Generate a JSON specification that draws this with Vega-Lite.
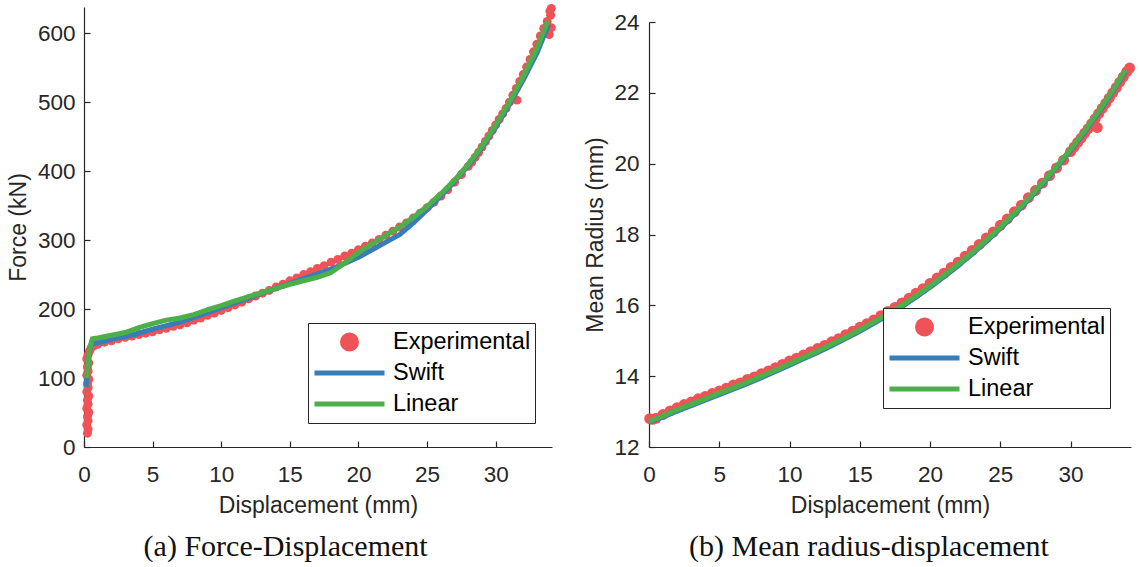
{
  "$schema": "https://vega.github.io/schema/vega-lite/v6.json",
  "background": "white",
  "padding": {"left": 7, "top": 3, "right": 5, "bottom": 0},
  "config": {
    "view": {"stroke": null},
    "font": "Liberation Sans",
    "axis": {
      "grid": false,
      "labelFlush": false,
      "domainColor": "#262626",
      "domainWidth": 1.2,
      "tickColor": "#262626",
      "tickWidth": 1.2,
      "tickSize": -6,
      "labelFont": "Liberation Sans",
      "labelFontSize": 22.5,
      "labelColor": "#262626",
      "titleFont": "Liberation Sans",
      "titleFontSize": 23,
      "titleFontWeight": "normal",
      "titleColor": "#262626"
    },
    "legend": {
      "title": null,
      "orient": "none",
      "symbolType": "stroke",
      "symbolSize": 4900,
      "symbolStrokeWidth": 5,
      "symbolFillColor": "#e41a1c",
      "clipHeight": 30,
      "rowPadding": 1,
      "padding": 4,
      "labelFont": "Liberation Sans",
      "labelFontSize": 23.5,
      "labelColor": "#000000",
      "labelOffset": 6,
      "strokeColor": "#262626",
      "fillColor": "white"
    }
  },
  "datasets": {
    "forceExp": [
      {"series": "Experimental", "d": 0.25, "f": 20}, {"series": "Experimental", "d": 0.3, "f": 26}, {"series": "Experimental", "d": 0.2, "f": 32},
      {"series": "Experimental", "d": 0.3, "f": 38}, {"series": "Experimental", "d": 0.25, "f": 44}, {"series": "Experimental", "d": 0.35, "f": 50},
      {"series": "Experimental", "d": 0.2, "f": 56}, {"series": "Experimental", "d": 0.3, "f": 62}, {"series": "Experimental", "d": 0.25, "f": 68},
      {"series": "Experimental", "d": 0.35, "f": 74}, {"series": "Experimental", "d": 0.2, "f": 80}, {"series": "Experimental", "d": 0.3, "f": 86},
      {"series": "Experimental", "d": 0.25, "f": 92}, {"series": "Experimental", "d": 0.35, "f": 98}, {"series": "Experimental", "d": 0.2, "f": 104},
      {"series": "Experimental", "d": 0.3, "f": 110}, {"series": "Experimental", "d": 0.25, "f": 116}, {"series": "Experimental", "d": 0.35, "f": 122},
      {"series": "Experimental", "d": 0.2, "f": 128}, {"series": "Experimental", "d": 0.3, "f": 134}, {"series": "Experimental", "d": 0.4, "f": 139},
      {"series": "Experimental", "d": 0.5, "f": 143}, {"series": "Experimental", "d": 0.75, "f": 147}, {"series": "Experimental", "d": 1, "f": 149},
      {"series": "Experimental", "d": 1.5, "f": 152}, {"series": "Experimental", "d": 2, "f": 154}, {"series": "Experimental", "d": 2.5, "f": 157},
      {"series": "Experimental", "d": 3, "f": 159}, {"series": "Experimental", "d": 3.5, "f": 161}, {"series": "Experimental", "d": 4, "f": 163},
      {"series": "Experimental", "d": 4.5, "f": 165}, {"series": "Experimental", "d": 5, "f": 167}, {"series": "Experimental", "d": 5.5, "f": 170},
      {"series": "Experimental", "d": 6, "f": 172}, {"series": "Experimental", "d": 6.5, "f": 175}, {"series": "Experimental", "d": 7, "f": 177},
      {"series": "Experimental", "d": 7.5, "f": 180}, {"series": "Experimental", "d": 8, "f": 184}, {"series": "Experimental", "d": 8.5, "f": 187},
      {"series": "Experimental", "d": 9, "f": 191}, {"series": "Experimental", "d": 9.5, "f": 194}, {"series": "Experimental", "d": 10, "f": 198},
      {"series": "Experimental", "d": 10.5, "f": 202}, {"series": "Experimental", "d": 11, "f": 206}, {"series": "Experimental", "d": 11.5, "f": 210},
      {"series": "Experimental", "d": 12, "f": 215}, {"series": "Experimental", "d": 12.5, "f": 219}, {"series": "Experimental", "d": 13, "f": 223},
      {"series": "Experimental", "d": 13.5, "f": 227}, {"series": "Experimental", "d": 14, "f": 232}, {"series": "Experimental", "d": 14.5, "f": 236},
      {"series": "Experimental", "d": 15, "f": 241}, {"series": "Experimental", "d": 15.5, "f": 245}, {"series": "Experimental", "d": 16, "f": 250},
      {"series": "Experimental", "d": 16.5, "f": 254}, {"series": "Experimental", "d": 17, "f": 259}, {"series": "Experimental", "d": 17.5, "f": 263},
      {"series": "Experimental", "d": 18, "f": 268}, {"series": "Experimental", "d": 18.5, "f": 272}, {"series": "Experimental", "d": 19, "f": 277},
      {"series": "Experimental", "d": 19.5, "f": 281}, {"series": "Experimental", "d": 20, "f": 286}, {"series": "Experimental", "d": 20.5, "f": 291},
      {"series": "Experimental", "d": 21, "f": 296}, {"series": "Experimental", "d": 21.5, "f": 301}, {"series": "Experimental", "d": 22, "f": 307},
      {"series": "Experimental", "d": 22.5, "f": 313}, {"series": "Experimental", "d": 23, "f": 319}, {"series": "Experimental", "d": 23.5, "f": 325},
      {"series": "Experimental", "d": 24, "f": 332}, {"series": "Experimental", "d": 24.5, "f": 339}, {"series": "Experimental", "d": 25, "f": 347},
      {"series": "Experimental", "d": 25.5, "f": 355}, {"series": "Experimental", "d": 26, "f": 364}, {"series": "Experimental", "d": 26.5, "f": 373},
      {"series": "Experimental", "d": 27, "f": 384}, {"series": "Experimental", "d": 27.5, "f": 395}, {"series": "Experimental", "d": 28, "f": 407},
      {"series": "Experimental", "d": 28.25, "f": 413}, {"series": "Experimental", "d": 28.5, "f": 420}, {"series": "Experimental", "d": 28.75, "f": 427},
      {"series": "Experimental", "d": 29, "f": 435}, {"series": "Experimental", "d": 29.25, "f": 443}, {"series": "Experimental", "d": 29.5, "f": 451},
      {"series": "Experimental", "d": 29.75, "f": 459}, {"series": "Experimental", "d": 30, "f": 467}, {"series": "Experimental", "d": 30.25, "f": 475},
      {"series": "Experimental", "d": 30.5, "f": 483}, {"series": "Experimental", "d": 30.75, "f": 491}, {"series": "Experimental", "d": 31, "f": 500},
      {"series": "Experimental", "d": 31.55, "f": 503}, {"series": "Experimental", "d": 31.25, "f": 510}, {"series": "Experimental", "d": 31.5, "f": 520},
      {"series": "Experimental", "d": 31.75, "f": 530}, {"series": "Experimental", "d": 32, "f": 540}, {"series": "Experimental", "d": 32.25, "f": 551},
      {"series": "Experimental", "d": 32.5, "f": 562}, {"series": "Experimental", "d": 32.75, "f": 573}, {"series": "Experimental", "d": 33, "f": 584},
      {"series": "Experimental", "d": 33.25, "f": 596}, {"series": "Experimental", "d": 33.5, "f": 607}, {"series": "Experimental", "d": 33.75, "f": 617},
      {"series": "Experimental", "d": 34, "f": 626}, {"series": "Experimental", "d": 33.9, "f": 598}, {"series": "Experimental", "d": 34.05, "f": 608},
      {"series": "Experimental", "d": 33.95, "f": 632}, {"series": "Experimental", "d": 34.05, "f": 636}
    ],
    "forceSwift": [
      {"series": "Swift", "d": 0.15, "f": 87}, {"series": "Swift", "d": 0.35, "f": 130}, {"series": "Swift", "d": 0.5, "f": 149},
      {"series": "Swift", "d": 1, "f": 151}, {"series": "Swift", "d": 2, "f": 156}, {"series": "Swift", "d": 3, "f": 160},
      {"series": "Swift", "d": 4, "f": 165}, {"series": "Swift", "d": 5, "f": 171}, {"series": "Swift", "d": 6, "f": 176},
      {"series": "Swift", "d": 7, "f": 181}, {"series": "Swift", "d": 8, "f": 188}, {"series": "Swift", "d": 9, "f": 195},
      {"series": "Swift", "d": 10, "f": 202}, {"series": "Swift", "d": 11, "f": 209}, {"series": "Swift", "d": 12, "f": 216},
      {"series": "Swift", "d": 13, "f": 223}, {"series": "Swift", "d": 14, "f": 230}, {"series": "Swift", "d": 15, "f": 237},
      {"series": "Swift", "d": 16, "f": 244}, {"series": "Swift", "d": 17, "f": 251}, {"series": "Swift", "d": 18, "f": 258},
      {"series": "Swift", "d": 19, "f": 266}, {"series": "Swift", "d": 20, "f": 275}, {"series": "Swift", "d": 21, "f": 286},
      {"series": "Swift", "d": 22, "f": 297}, {"series": "Swift", "d": 23, "f": 308}, {"series": "Swift", "d": 24, "f": 325},
      {"series": "Swift", "d": 25, "f": 344}, {"series": "Swift", "d": 26, "f": 364}, {"series": "Swift", "d": 27, "f": 385},
      {"series": "Swift", "d": 28, "f": 408}, {"series": "Swift", "d": 29, "f": 434}, {"series": "Swift", "d": 30, "f": 464},
      {"series": "Swift", "d": 31, "f": 497}, {"series": "Swift", "d": 32, "f": 532}, {"series": "Swift", "d": 33, "f": 571},
      {"series": "Swift", "d": 33.85, "f": 613}
    ],
    "forceLinear": [
      {"series": "Linear", "d": 0.2, "f": 100}, {"series": "Linear", "d": 0.4, "f": 140}, {"series": "Linear", "d": 0.6, "f": 157},
      {"series": "Linear", "d": 1, "f": 158}, {"series": "Linear", "d": 2, "f": 162}, {"series": "Linear", "d": 3, "f": 166},
      {"series": "Linear", "d": 4, "f": 173}, {"series": "Linear", "d": 5, "f": 179}, {"series": "Linear", "d": 6, "f": 184},
      {"series": "Linear", "d": 7, "f": 187}, {"series": "Linear", "d": 8, "f": 192}, {"series": "Linear", "d": 9, "f": 199},
      {"series": "Linear", "d": 10, "f": 205}, {"series": "Linear", "d": 11, "f": 212}, {"series": "Linear", "d": 12, "f": 218},
      {"series": "Linear", "d": 13, "f": 224}, {"series": "Linear", "d": 14, "f": 230}, {"series": "Linear", "d": 15, "f": 236},
      {"series": "Linear", "d": 16, "f": 241}, {"series": "Linear", "d": 17, "f": 246}, {"series": "Linear", "d": 18, "f": 253},
      {"series": "Linear", "d": 19, "f": 267}, {"series": "Linear", "d": 20, "f": 282}, {"series": "Linear", "d": 21, "f": 295},
      {"series": "Linear", "d": 22, "f": 307}, {"series": "Linear", "d": 23, "f": 319}, {"series": "Linear", "d": 24, "f": 333},
      {"series": "Linear", "d": 25, "f": 349}, {"series": "Linear", "d": 26, "f": 367}, {"series": "Linear", "d": 27, "f": 387},
      {"series": "Linear", "d": 28, "f": 410}, {"series": "Linear", "d": 29, "f": 436}, {"series": "Linear", "d": 30, "f": 467},
      {"series": "Linear", "d": 31, "f": 500}, {"series": "Linear", "d": 32, "f": 537}, {"series": "Linear", "d": 33, "f": 578},
      {"series": "Linear", "d": 33.8, "f": 618}
    ],
    "radiusExp": [
      {"series": "Experimental", "d": 0.05, "r": 12.8}, {"series": "Experimental", "d": 0.25, "r": 12.78}, {"series": "Experimental", "d": 0.5, "r": 12.81},
      {"series": "Experimental", "d": 1, "r": 12.92}, {"series": "Experimental", "d": 1.5, "r": 13.02}, {"series": "Experimental", "d": 2, "r": 13.11},
      {"series": "Experimental", "d": 2.5, "r": 13.2}, {"series": "Experimental", "d": 3, "r": 13.27}, {"series": "Experimental", "d": 3.5, "r": 13.36},
      {"series": "Experimental", "d": 4, "r": 13.43}, {"series": "Experimental", "d": 4.5, "r": 13.51}, {"series": "Experimental", "d": 5, "r": 13.58},
      {"series": "Experimental", "d": 5.5, "r": 13.66}, {"series": "Experimental", "d": 6, "r": 13.75}, {"series": "Experimental", "d": 6.5, "r": 13.81},
      {"series": "Experimental", "d": 7, "r": 13.91}, {"series": "Experimental", "d": 7.5, "r": 13.98}, {"series": "Experimental", "d": 8, "r": 14.07},
      {"series": "Experimental", "d": 8.5, "r": 14.15}, {"series": "Experimental", "d": 9, "r": 14.24}, {"series": "Experimental", "d": 9.5, "r": 14.33},
      {"series": "Experimental", "d": 10, "r": 14.43}, {"series": "Experimental", "d": 10.5, "r": 14.51}, {"series": "Experimental", "d": 11, "r": 14.6},
      {"series": "Experimental", "d": 11.5, "r": 14.69}, {"series": "Experimental", "d": 12, "r": 14.78}, {"series": "Experimental", "d": 12.5, "r": 14.87},
      {"series": "Experimental", "d": 13, "r": 14.97}, {"series": "Experimental", "d": 13.5, "r": 15.06}, {"series": "Experimental", "d": 14, "r": 15.17},
      {"series": "Experimental", "d": 14.5, "r": 15.27}, {"series": "Experimental", "d": 15, "r": 15.38}, {"series": "Experimental", "d": 15.5, "r": 15.48},
      {"series": "Experimental", "d": 16, "r": 15.59}, {"series": "Experimental", "d": 16.5, "r": 15.71}, {"series": "Experimental", "d": 17, "r": 15.83},
      {"series": "Experimental", "d": 17.5, "r": 15.94}, {"series": "Experimental", "d": 18, "r": 16.07}, {"series": "Experimental", "d": 18.5, "r": 16.2},
      {"series": "Experimental", "d": 19, "r": 16.34}, {"series": "Experimental", "d": 19.5, "r": 16.47}, {"series": "Experimental", "d": 20, "r": 16.62},
      {"series": "Experimental", "d": 20.5, "r": 16.77}, {"series": "Experimental", "d": 21, "r": 16.91}, {"series": "Experimental", "d": 21.5, "r": 17.07},
      {"series": "Experimental", "d": 22, "r": 17.22}, {"series": "Experimental", "d": 22.5, "r": 17.39}, {"series": "Experimental", "d": 23, "r": 17.55},
      {"series": "Experimental", "d": 23.5, "r": 17.72}, {"series": "Experimental", "d": 24, "r": 17.9}, {"series": "Experimental", "d": 24.5, "r": 18.07},
      {"series": "Experimental", "d": 25, "r": 18.26}, {"series": "Experimental", "d": 25.5, "r": 18.44}, {"series": "Experimental", "d": 26, "r": 18.64},
      {"series": "Experimental", "d": 26.5, "r": 18.83}, {"series": "Experimental", "d": 27, "r": 19.04}, {"series": "Experimental", "d": 27.5, "r": 19.24},
      {"series": "Experimental", "d": 28, "r": 19.45}, {"series": "Experimental", "d": 28.5, "r": 19.66}, {"series": "Experimental", "d": 29, "r": 19.88},
      {"series": "Experimental", "d": 29.5, "r": 20.1}, {"series": "Experimental", "d": 30, "r": 20.34}, {"series": "Experimental", "d": 30.25, "r": 20.47},
      {"series": "Experimental", "d": 30.5, "r": 20.6}, {"series": "Experimental", "d": 30.75, "r": 20.72}, {"series": "Experimental", "d": 31, "r": 20.86},
      {"series": "Experimental", "d": 31.25, "r": 20.99}, {"series": "Experimental", "d": 31.5, "r": 21.13}, {"series": "Experimental", "d": 31.9, "r": 21.02},
      {"series": "Experimental", "d": 31.75, "r": 21.27}, {"series": "Experimental", "d": 32, "r": 21.41}, {"series": "Experimental", "d": 32.25, "r": 21.56},
      {"series": "Experimental", "d": 32.5, "r": 21.7}, {"series": "Experimental", "d": 32.75, "r": 21.85}, {"series": "Experimental", "d": 33, "r": 22.0},
      {"series": "Experimental", "d": 33.25, "r": 22.15}, {"series": "Experimental", "d": 33.5, "r": 22.3}, {"series": "Experimental", "d": 33.75, "r": 22.45},
      {"series": "Experimental", "d": 34, "r": 22.6}, {"series": "Experimental", "d": 34.2, "r": 22.7}
    ],
    "radiusSwift": [
      {"series": "Swift", "d": 0, "r": 12.7}, {"series": "Swift", "d": 1, "r": 12.85}, {"series": "Swift", "d": 2, "r": 13.01},
      {"series": "Swift", "d": 3, "r": 13.17}, {"series": "Swift", "d": 4, "r": 13.32}, {"series": "Swift", "d": 5, "r": 13.48},
      {"series": "Swift", "d": 6, "r": 13.63}, {"series": "Swift", "d": 7, "r": 13.79}, {"series": "Swift", "d": 8, "r": 13.96},
      {"series": "Swift", "d": 9, "r": 14.13}, {"series": "Swift", "d": 10, "r": 14.31}, {"series": "Swift", "d": 11, "r": 14.49},
      {"series": "Swift", "d": 12, "r": 14.67}, {"series": "Swift", "d": 13, "r": 14.86}, {"series": "Swift", "d": 14, "r": 15.06},
      {"series": "Swift", "d": 15, "r": 15.27}, {"series": "Swift", "d": 16, "r": 15.49}, {"series": "Swift", "d": 17, "r": 15.72},
      {"series": "Swift", "d": 18, "r": 15.96}, {"series": "Swift", "d": 19, "r": 16.23}, {"series": "Swift", "d": 20, "r": 16.51},
      {"series": "Swift", "d": 21, "r": 16.81}, {"series": "Swift", "d": 22, "r": 17.12}, {"series": "Swift", "d": 23, "r": 17.45},
      {"series": "Swift", "d": 24, "r": 17.8}, {"series": "Swift", "d": 25, "r": 18.17}, {"series": "Swift", "d": 26, "r": 18.56},
      {"series": "Swift", "d": 27, "r": 18.98}, {"series": "Swift", "d": 28, "r": 19.42}, {"series": "Swift", "d": 29, "r": 19.88},
      {"series": "Swift", "d": 30, "r": 20.37}, {"series": "Swift", "d": 31, "r": 20.89}, {"series": "Swift", "d": 32, "r": 21.44},
      {"series": "Swift", "d": 33, "r": 22.02}, {"series": "Swift", "d": 33.9, "r": 22.6}
    ],
    "radiusLinear": [
      {"series": "Linear", "d": 0, "r": 12.72}, {"series": "Linear", "d": 1, "r": 12.88}, {"series": "Linear", "d": 2, "r": 13.05},
      {"series": "Linear", "d": 3, "r": 13.21}, {"series": "Linear", "d": 4, "r": 13.36}, {"series": "Linear", "d": 5, "r": 13.52},
      {"series": "Linear", "d": 6, "r": 13.67}, {"series": "Linear", "d": 7, "r": 13.83}, {"series": "Linear", "d": 8, "r": 14.0},
      {"series": "Linear", "d": 9, "r": 14.17}, {"series": "Linear", "d": 10, "r": 14.35}, {"series": "Linear", "d": 11, "r": 14.53},
      {"series": "Linear", "d": 12, "r": 14.71}, {"series": "Linear", "d": 13, "r": 14.9}, {"series": "Linear", "d": 14, "r": 15.1},
      {"series": "Linear", "d": 15, "r": 15.31}, {"series": "Linear", "d": 16, "r": 15.53}, {"series": "Linear", "d": 17, "r": 15.76},
      {"series": "Linear", "d": 18, "r": 16.0}, {"series": "Linear", "d": 19, "r": 16.27}, {"series": "Linear", "d": 20, "r": 16.55},
      {"series": "Linear", "d": 21, "r": 16.85}, {"series": "Linear", "d": 22, "r": 17.16}, {"series": "Linear", "d": 23, "r": 17.49},
      {"series": "Linear", "d": 24, "r": 17.84}, {"series": "Linear", "d": 25, "r": 18.21}, {"series": "Linear", "d": 26, "r": 18.6},
      {"series": "Linear", "d": 27, "r": 19.02}, {"series": "Linear", "d": 28, "r": 19.46}, {"series": "Linear", "d": 29, "r": 19.92},
      {"series": "Linear", "d": 30, "r": 20.41}, {"series": "Linear", "d": 31, "r": 20.93}, {"series": "Linear", "d": 32, "r": 21.48},
      {"series": "Linear", "d": 33, "r": 22.06}, {"series": "Linear", "d": 33.9, "r": 22.64}
    ]
  },
  "resolve": {"scale": {"color": "independent"}, "legend": {"color": "independent"}},
  "spacing": 28,
  "hconcat": [
    {
      "width": 468,
      "height": 440,
      "title": {
        "text": "(a) Force-Displacement",
        "orient": "bottom",
        "anchor": "middle",
        "frame": "bounds",
        "font": "Liberation Serif",
        "fontSize": 30,
        "fontWeight": "normal",
        "color": "#111111",
        "offset": 14,
        "dx": 4
      },
      "encoding": {
        "x": {
          "field": "d",
          "type": "quantitative",
          "scale": {"domain": [0, 34.1], "nice": false, "zero": false},
          "axis": {"title": "Displacement (mm)", "values": [0, 5, 10, 15, 20, 25, 30], "labelPadding": 22, "titlePadding": 9}
        },
        "y": {
          "field": "f",
          "type": "quantitative",
          "scale": {"domain": [0, 638], "nice": false, "zero": false},
          "axis": {"title": "Force (kN)", "values": [0, 100, 200, 300, 400, 500, 600], "labelPadding": 15, "titlePadding": 7}
        },
        "color": {
          "field": "series",
          "type": "nominal",
          "scale": {"domain": ["Experimental", "Swift", "Linear"], "range": ["#ef5257", "#377eb8", "#4daf4a"]},
          "legend": {
            "legendX": 224,
            "legendY": 316,
            "encode": {
              "symbols": {
                "update": {
                  "shape": {"signal": "datum.value === 'Experimental' ? 'M -0.2 0 A 0.2 0.2 0 1 0 0.2 0 A 0.2 0.2 0 1 0 -0.2 0 Z' : 'stroke'"},
                  "fill": {"signal": "datum.value === 'Experimental' ? '#e41a1c' : 'transparent'"},
                  "stroke": {"signal": "datum.value === 'Swift' ? '#377eb8' : datum.value === 'Linear' ? '#4daf4a' : 'transparent'"},
                  "strokeWidth": {"value": 5},
                  "opacity": {"value": 1}
                }
              }
            }
          }
        }
      },
      "layer": [
        {"data": {"name": "forceExp"}, "mark": {"type": "point", "filled": true, "size": 80, "opacity": 1, "strokeWidth": 0}},
        {"data": {"name": "forceSwift"}, "mark": {"type": "line", "strokeWidth": 5, "strokeJoin": "round"}},
        {"data": {"name": "forceLinear"}, "mark": {"type": "line", "strokeWidth": 5, "strokeJoin": "round"}}
      ]
    },
    {
      "spacing": 14,
      "bounds": "flush",
      "vconcat": [
        {
          "width": 482,
          "height": 1,
          "data": {"values": []},
          "mark": {"type": "point", "opacity": 0}
        },
        {
          "width": 482,
          "height": 425,
          "title": {
            "text": "(b) Mean radius-displacement",
            "orient": "bottom",
            "anchor": "middle",
            "frame": "bounds",
            "font": "Liberation Serif",
            "fontSize": 30,
            "fontWeight": "normal",
            "color": "#111111",
            "offset": 14,
            "dx": 9
          },
          "encoding": {
            "x": {
              "field": "d",
              "type": "quantitative",
              "scale": {"domain": [0, 34.3], "nice": false, "zero": false},
              "axis": {"title": "Displacement (mm)", "values": [0, 5, 10, 15, 20, 25, 30], "labelPadding": 22, "titlePadding": 9}
            },
            "y": {
              "field": "r",
              "type": "quantitative",
              "scale": {"domain": [12, 24], "nice": false, "zero": false},
              "axis": {"title": "Mean Radius (mm)", "values": [12, 14, 16, 18, 20, 22, 24], "labelPadding": 16, "titlePadding": 6}
            },
            "color": {
              "field": "series",
              "type": "nominal",
              "scale": {"domain": ["Experimental", "Swift", "Linear"], "range": ["#ef5257", "#377eb8", "#4daf4a"]},
              "legend": {
                "legendX": 234,
                "legendY": 301,
                "encode": {
                  "symbols": {
                    "update": {
                      "shape": {"signal": "datum.value === 'Experimental' ? 'M -0.2 0 A 0.2 0.2 0 1 0 0.2 0 A 0.2 0.2 0 1 0 -0.2 0 Z' : 'stroke'"},
                      "fill": {"signal": "datum.value === 'Experimental' ? '#e41a1c' : 'transparent'"},
                      "stroke": {"signal": "datum.value === 'Swift' ? '#377eb8' : datum.value === 'Linear' ? '#4daf4a' : 'transparent'"},
                      "strokeWidth": {"value": 5},
                      "opacity": {"value": 1}
                    }
                  }
                }
              }
            }
          },
          "layer": [
            {"data": {"name": "radiusExp"}, "mark": {"type": "point", "filled": true, "size": 120, "opacity": 1, "strokeWidth": 0}},
            {"data": {"name": "radiusSwift"}, "mark": {"type": "line", "strokeWidth": 5, "strokeJoin": "round"}},
            {"data": {"name": "radiusLinear"}, "mark": {"type": "line", "strokeWidth": 5, "strokeJoin": "round"}}
          ]
        }
      ]
    }
  ]
}
